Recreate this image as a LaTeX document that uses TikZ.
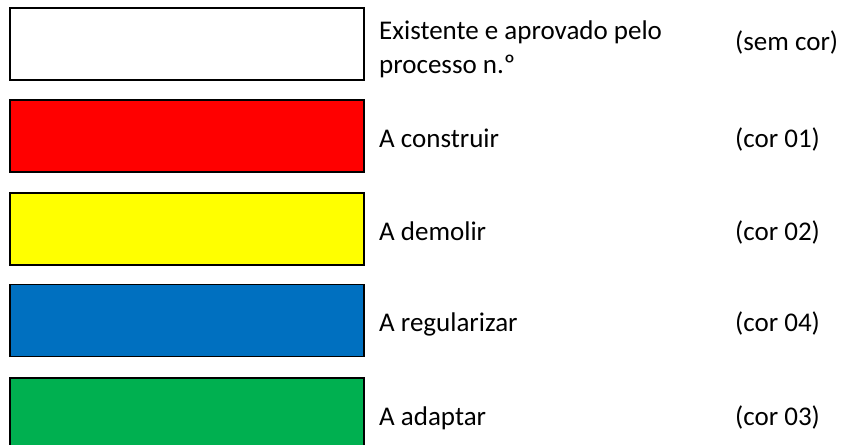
\documentclass[tikz,border=0pt]{standalone}
\usepackage{fontspec}
\setmainfont{Carlito}
\usepackage{tikz}

\begin{document}
\begin{tikzpicture}
[every node/.style={inner sep=0pt}]
\clip (0pt, 0pt) rectangle (842pt, -444pt);
\fill [white] (0pt, 0pt) rectangle (842pt, -444pt);
\definecolor{cor01}{HTML}{FF0000}
\definecolor{cor02}{HTML}{FFFF00}
\definecolor{cor04}{HTML}{0070C0}
\definecolor{cor03}{HTML}{00B050}
\node (semcor) [rectangle, minimum width=354pt, minimum height=72pt, fill=white, line width=1.5pt, draw=black] at (187pt, -44pt) {};
\node (cor01) [rectangle, minimum width=354pt, minimum height=72pt, fill=cor01, line width=1.5pt, draw=black] at (187pt, -136pt) {};
\node (cor02) [rectangle, minimum width=354pt, minimum height=72pt, fill=cor02, line width=1.5pt, draw=black] at (187pt, -229pt) {};
\node (cor04) [rectangle, minimum width=354pt, minimum height=72pt, fill=cor04, line width=1.5pt, draw=black] at (187pt, -320.5pt) {};
\node (cor03) [rectangle, minimum width=354pt, minimum height=72pt, fill=cor03, line width=1.5pt, draw=black] at (187pt, -414pt) {};
\node (t1) [anchor=base west, align=left, font=\fontsize{27pt}{33pt}\selectfont] at (379pt, -73pt) {Existente e aprovado pelo\\processo n.º};
\node (t2) [anchor=base west, font=\fontsize{27pt}{33pt}\selectfont] at (379pt, -147pt) {A construir};
\node (t3) [anchor=base west, font=\fontsize{27pt}{33pt}\selectfont] at (379pt, -240pt) {A demolir};
\node (t4) [anchor=base west, font=\fontsize{27pt}{33pt}\selectfont] at (379pt, -331.5pt) {A regularizar};
\node (t5) [anchor=base west, font=\fontsize{27pt}{33pt}\selectfont] at (379pt, -425pt) {A adaptar};
\node (c1) [anchor=base west, font=\fontsize{27pt}{33pt}\selectfont] at (735pt, -51pt) {(sem cor)};
\node (c2) [anchor=base west, font=\fontsize{27pt}{33pt}\selectfont] at (735pt, -147pt) {(cor 01)};
\node (c3) [anchor=base west, font=\fontsize{27pt}{33pt}\selectfont] at (735pt, -240pt) {(cor 02)};
\node (c4) [anchor=base west, font=\fontsize{27pt}{33pt}\selectfont] at (735pt, -331.5pt) {(cor 04)};
\node (c5) [anchor=base west, font=\fontsize{27pt}{33pt}\selectfont] at (735pt, -425pt) {(cor 03)};
\end{tikzpicture}
\end{document}
